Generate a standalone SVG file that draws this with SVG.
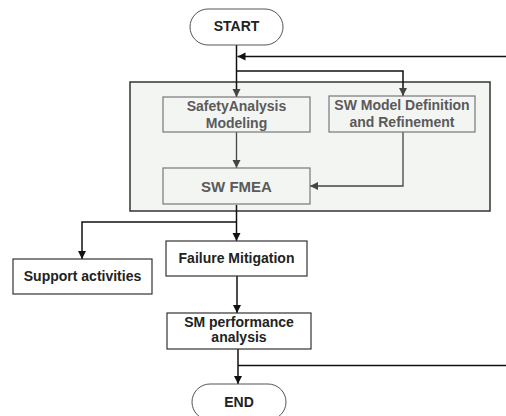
<svg xmlns="http://www.w3.org/2000/svg" width="506" height="416" viewBox="0 0 506 416">
<style>
text{font-family:"Liberation Sans",Arial,sans-serif;font-weight:bold;font-size:14px;text-anchor:middle}
.pill{fill:#fff;stroke:#555;stroke-width:1}
.box{fill:#fff;stroke:#333;stroke-width:1.2}
.ibox{fill:none;stroke:#777;stroke-width:1.2}
.itxt{fill:#5a5a5a}
.txt{fill:#222}
.c{fill:none;stroke:#111;stroke-width:1.5}
.ic{fill:none;stroke:#444;stroke-width:1.3}
</style>
<defs>
<marker id="ah" markerWidth="10" markerHeight="10" refX="9" refY="5" orient="auto" markerUnits="userSpaceOnUse">
<path d="M1,1 L9,5 L1,9 Z" fill="#111"/>
</marker>
<marker id="ahg" markerWidth="10" markerHeight="10" refX="9" refY="5" orient="auto" markerUnits="userSpaceOnUse">
<path d="M1,1 L9,5 L1,9 Z" fill="#444"/>
</marker>
</defs>
<g id="container">
<rect x="130" y="82" width="360" height="129" fill="#f3f5f3" stroke="#333" stroke-width="1.5"/>
</g>
<g id="connectors">
<path class="c" d="M236.5,45 V97" marker-end="url(#ahg)"/>
<path class="c" d="M506,56.5 H237.5" marker-end="url(#ah)"/>
<path class="c" d="M236.5,71 H403 V96" marker-end="url(#ahg)"/>
<path class="ic" d="M236.5,132 V168" marker-end="url(#ahg)"/>
<path class="ic" d="M403,132 V186 H310" marker-end="url(#ahg)"/>
<path class="c" d="M236.5,205 V241" marker-end="url(#ah)"/>
<path class="c" d="M236.5,222 H82 V259" marker-end="url(#ah)"/>
<path class="c" d="M237,276 V313" marker-end="url(#ah)"/>
<path class="c" d="M238,349 V384" marker-end="url(#ah)"/>
<path class="c" d="M238,365.5 H506"/>
</g>
<g id="start">
<rect class="pill" x="190" y="9" width="93" height="36" rx="18"/>
<text class="txt" x="236.5" y="31">START</text>
</g>
<g id="safety">
<rect class="ibox" x="163" y="97" width="147" height="35"/>
<text class="itxt" x="236.5" y="110.5">SafetyAnalysis</text>
<text class="itxt" x="236.5" y="127.5">Modeling</text>
</g>
<g id="swmodel">
<rect class="ibox" x="329" y="96" width="146" height="36"/>
<text class="itxt" x="402" y="110">SW Model Definition</text>
<text class="itxt" x="402" y="127">and Refinement</text>
</g>
<g id="fmea">
<rect class="ibox" x="163" y="168" width="147" height="36"/>
<text class="itxt" x="236.5" y="191.5" style="font-size:15px">SW FMEA</text>
</g>
<g id="failure">
<rect class="box" x="166" y="241" width="141" height="35"/>
<text class="txt" x="236.5" y="262.5">Failure Mitigation</text>
</g>
<g id="support">
<rect class="box" x="13" y="259" width="139" height="35"/>
<text class="txt" x="82.5" y="281">Support activities</text>
</g>
<g id="smperf">
<rect class="box" x="167" y="313" width="144" height="36"/>
<text class="txt" x="239" y="326.5">SM performance</text>
<text class="txt" x="239" y="342">analysis</text>
</g>
<g id="end">
<rect class="pill" x="192" y="384" width="94" height="36" rx="18"/>
<text class="txt" x="239" y="407">END</text>
</g>
</svg>
